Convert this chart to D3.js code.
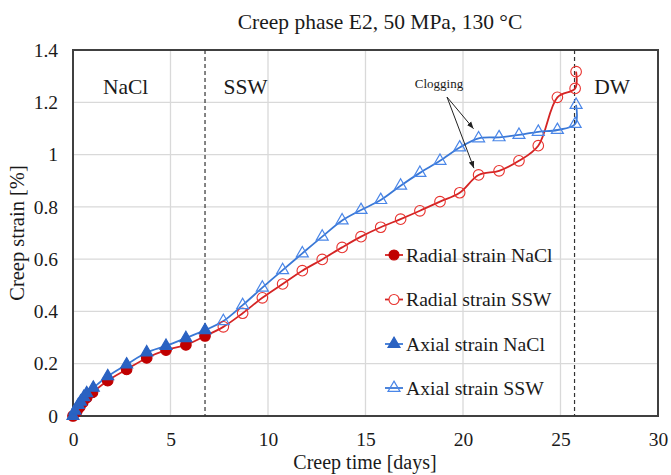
<!DOCTYPE html>
<html><head><meta charset="utf-8">
<script src="https://cdn.jsdelivr.net/npm/d3@7"></script>
<style>body{margin:0;background:#fff} svg{display:block} text{font-family:"Liberation Serif","Times New Roman",serif;fill:#1a1a1a}</style>
</head><body>
<svg id="c" width="671" height="475"></svg>
<script>
// ---- data ----
const radialNaClT = [0, 0.2, 0.35, 0.5, 0.7, 1.0, 1.78, 2.75, 3.78, 4.77, 5.79, 6.77];
const radialNaClY = [0, 0.018, 0.035, 0.052, 0.07, 0.09, 0.135, 0.178, 0.222, 0.252, 0.272, 0.306];
const axialNaClT = [0, 0.1, 0.27, 0.39, 0.55, 0.7, 1.04, 1.78, 2.75, 3.78, 4.77, 5.79, 6.77];
const axialNaClY = [0, 0.02, 0.042, 0.055, 0.072, 0.087, 0.108, 0.152, 0.197, 0.243, 0.268, 0.298, 0.328];
const sswT = [6.77, 7.71, 8.70, 9.71, 10.75, 11.76, 12.78, 13.8, 14.77, 15.78, 16.8, 17.79, 18.82, 19.83, 20.8, 21.85, 22.87, 23.86, 24.84, 25.75, 25.8];
const radialSSWY = [0.306, 0.341, 0.393, 0.452, 0.505, 0.556, 0.599, 0.645, 0.686, 0.722, 0.753, 0.785, 0.82, 0.854, 0.922, 0.938, 0.976, 1.034, 1.219, 1.253, 1.317];
const axialSSWY = [0.328, 0.363, 0.424, 0.491, 0.558, 0.622, 0.686, 0.748, 0.788, 0.826, 0.881, 0.93, 0.976, 1.027, 1.062, 1.066, 1.075, 1.087, 1.094, 1.117, 1.19];
const xTicks = [0, 5, 10, 15, 20, 25, 30];
const yTicks = [0, 0.2, 0.4, 0.6, 0.8, 1, 1.2, 1.4];
const yTickLabels = ["0", "0.2", "0.4", "0.6", "0.8", "1", "1.2", "1.4"];
const phaseChanges = [6.77, 25.72];
const phaseLabels = [{text: "NaCl", t: 2.7}, {text: "SSW", t: 8.85}, {text: "DW", t: 27.65}];
const clogStart = [19.18, 1.22];
const clogTips = [[20.54, 1.099], [20.56, 0.948]];
const legendNames = ["Radial strain NaCl", "Radial strain SSW", "Axial strain NaCl", "Axial strain SSW"];

// ---- layout ----
const svg = d3.select("#c");
const L = 73, R = 658, T = 50, B = 416;
const x = d3.scaleLinear().domain([0, 30]).range([L, R]);
const y = d3.scaleLinear().domain([0, 1.4]).range([B, T]);

const redLine = "#d42424", redDark = "#c00000", redOpen = "#e8322e";
const blueLine = "#3a78d6", blueDark = "#2a62c2", blueOpen = "#4a86e8";

// gridlines
svg.append("g").selectAll("line").data(xTicks.slice(1, -1)).join("line")
  .attr("x1", d => x(d)).attr("x2", d => x(d)).attr("y1", T).attr("y2", B)
  .attr("stroke", "#d9d9d9").attr("stroke-width", 1.3);
svg.append("g").selectAll("line").data(yTicks.slice(1, -1)).join("line")
  .attr("y1", d => y(d)).attr("y2", d => y(d)).attr("x1", L).attr("x2", R)
  .attr("stroke", "#d9d9d9").attr("stroke-width", 1.3);

// frame
svg.append("rect").attr("x", L).attr("y", T).attr("width", R - L).attr("height", B - T)
  .attr("fill", "none").attr("stroke", "#404040").attr("stroke-width", 2);

// axes
const xa = svg.append("g").attr("transform", `translate(0,${B})`)
  .call(d3.axisBottom(x).tickValues(xTicks).tickSize(0).tickPadding(16).tickFormat(d3.format("d")));
xa.select(".domain").remove();
xa.selectAll("text").attr("font-size", 19.5).attr("fill", "#1a1a1a");
const ya = svg.append("g").attr("transform", `translate(${L},0)`)
  .call(d3.axisLeft(y).tickValues(yTicks).tickSize(0).tickPadding(15).tickFormat((d, i) => yTickLabels[i]));
ya.select(".domain").remove();
ya.selectAll("text").attr("font-size", 19.5).attr("fill", "#1a1a1a");

// phase lines
svg.append("g").selectAll("line").data(phaseChanges).join("line")
  .attr("x1", d => x(d)).attr("x2", d => x(d)).attr("y1", T).attr("y2", B)
  .attr("stroke", "#333").attr("stroke-width", 1.2).attr("stroke-dasharray", "4,3");

// phase labels
svg.append("g").selectAll("text").data(phaseLabels).join("text")
  .attr("x", d => x(d.t)).attr("y", 94).attr("text-anchor", "middle")
  .attr("font-size", 21.5).text(d => d.text);

// titles
svg.append("text").attr("x", 380).attr("y", 29).attr("text-anchor", "middle")
  .attr("font-size", 21.5).text("Creep phase E2, 50 MPa, 130 °C");
svg.append("text").attr("x", 365).attr("y", 469).attr("text-anchor", "middle")
  .attr("font-size", 20).text("Creep time [days]");
svg.append("text").attr("transform", `translate(24,${(T + B) / 2}) rotate(-90)`).attr("text-anchor", "middle")
  .attr("font-size", 20.5).text("Creep strain [%]");

// series
const line = d3.line().x(d => x(d[0])).y(d => y(d[1])).curve(d3.curveCatmullRom.alpha(0.5));
const zip = (a, b) => a.map((v, i) => [v, b[i]]);
const series = [
  {pts: zip(sswT, radialSSWY), color: redLine, mark: "circle", fill: "#fff", stroke: redOpen},
  {pts: zip(sswT, axialSSWY), color: blueLine, mark: "tri", fill: "none", stroke: blueOpen},
  {pts: zip(radialNaClT, radialNaClY), color: redLine, mark: "circle", fill: redDark, stroke: redDark},
  {pts: zip(axialNaClT, axialNaClY), color: blueLine, mark: "tri", fill: blueDark, stroke: blueDark},
];
const tri = d3.symbol().type(d3.symbolTriangle).size(62);
series.forEach(s => {
  svg.append("path").datum(s.pts).attr("d", line).attr("fill", "none")
    .attr("stroke", s.color).attr("stroke-width", 1.8);
});
series.forEach(s => {
  const g = svg.append("g");
  const pts = s.fill === "#fff" || s.fill === "none" ? s.pts.slice(1) : s.pts;
  if (s.mark === "circle") {
    g.selectAll("circle").data(pts).join("circle")
      .attr("cx", d => x(d[0])).attr("cy", d => y(d[1])).attr("r", 5.3)
      .attr("fill", s.fill === "#fff" ? "none" : s.fill).attr("stroke", s.stroke).attr("stroke-width", 1.1);
  } else {
    g.selectAll("path").data(pts).join("path")
      .attr("transform", d => `translate(${x(d[0])},${y(d[1])})`).attr("d", tri)
      .attr("fill", s.fill).attr("stroke", s.stroke).attr("stroke-width", 1.2);
  }
});

// clogging annotation
const defs = svg.append("defs");
defs.append("marker").attr("id", "ah").attr("viewBox", "0 0 10 10").attr("refX", 10).attr("refY", 5)
  .attr("markerWidth", 7).attr("markerHeight", 7).attr("orient", "auto")
  .append("path").attr("d", "M0,1 L10,5 L0,9 z").attr("fill", "#222");
svg.append("g").selectAll("line").data(clogTips).join("line")
  .attr("x1", x(clogStart[0])).attr("y1", y(clogStart[1]))
  .attr("x2", d => x(d[0])).attr("y2", d => y(d[1]))
  .attr("stroke", "#222").attr("stroke-width", 1).attr("marker-end", "url(#ah)");
svg.append("text").attr("x", 439).attr("y", 88).attr("text-anchor", "middle")
  .attr("font-size", 13).text("Clogging");

// legend
const legendY = [255, 299.5, 344, 388];
const lg = svg.append("g");
const legendStyle = [series[2], series[0], series[3], series[1]];
legendNames.forEach((name, i) => {
  const s = legendStyle[i], cy = legendY[i];
  lg.append("line").attr("x1", 385).attr("x2", 403).attr("y1", cy).attr("y2", cy)
    .attr("stroke", s.color).attr("stroke-width", 1.8);
  if (s.mark === "circle") {
    lg.append("circle").attr("cx", 394).attr("cy", cy).attr("r", 5)
      .attr("fill", s.fill === "#fff" ? "#fff" : s.fill).attr("stroke", s.stroke).attr("stroke-width", 1.1);
  } else {
    lg.append("path").attr("transform", `translate(394,${cy})`).attr("d", tri)
      .attr("fill", s.fill).attr("stroke", s.stroke).attr("stroke-width", 1.2);
  }
  lg.append("text").attr("x", 406).attr("y", cy + 6.5).attr("font-size", 19.7).text(name);
});
</script>
</body></html>
